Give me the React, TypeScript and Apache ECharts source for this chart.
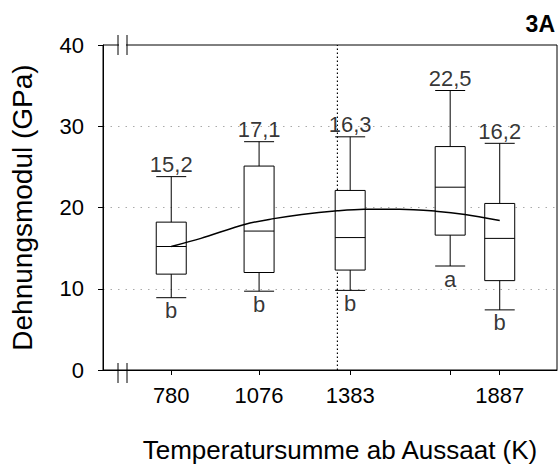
import React, { useEffect, useRef } from "react";
import * as echarts from "echarts";

// ---- data ----
const boxX = [780, 1076, 1383, 1720, 1887];
const whiskerMin = [8.9, 9.7, 9.8, 12.8, 7.4];
const q1 = [11.8, 12.0, 12.3, 16.6, 11.0];
const median = [15.2, 17.1, 16.3, 22.5, 16.2];
const q3 = [18.2, 25.1, 22.1, 27.5, 20.5];
const whiskerMax = [23.8, 28.1, 28.7, 34.4, 27.9];
const medianLabels = ["15,2", "17,1", "16,3", "22,5", "16,2"];
const groupLetters = ["b", "b", "b", "a", "b"];

const curveX = [780, 880, 1030, 1120, 1220, 1340, 1430, 1550, 1670, 1770, 1887];
const curveY = [15.2, 16.2, 17.95, 18.6, 19.15, 19.6, 19.8, 19.8, 19.55, 19.15, 18.4];

const refLineX = 1340;
const xTickValues = [780, 1076, 1383, 1720, 1887];
const xLabelValues = [780, 1076, 1383, 1887];
const xMin = 550;
const xMax = 2080;
const yMin = 0;
const yMax = 40;
const yInterval = 10;

const FONT = "'Liberation Sans', Arial, Helvetica, sans-serif";
const GRID = { left: 100, right: 3, top: 45, bottom: 95 };
const W = 560;
const H = 468;

export default function App() {
  const ref = useRef<HTMLDivElement | null>(null);

  useEffect(() => {
    if (!ref.current) return;
    const chart = echarts.init(ref.current, undefined, { renderer: "svg" });

    const topY = GRID.top;
    const botY = H - GRID.bottom;
    const b1 = GRID.left + 18;
    const b2 = GRID.left + 27;
    const breakMarks = (y: number) => [
      {
        type: "rect",
        z: 100,
        shape: { x: b1 + 1, y: y - 2, width: b2 - b1 - 2, height: 4 },
        style: { fill: "#fff" },
      },
      {
        type: "line",
        z: 101,
        shape: { x1: b1, y1: y - 10, x2: b1, y2: y + 10 },
        style: { stroke: "#000", lineWidth: 1 },
      },
      {
        type: "line",
        z: 101,
        shape: { x1: b2, y1: y - 10, x2: b2, y2: y + 10 },
        style: { stroke: "#000", lineWidth: 1 },
      },
    ];

    const option: any = {
      animation: false,
      textStyle: { fontFamily: FONT, color: "#000" },
      title: {
        text: "3A",
        right: 5,
        top: 12,
        padding: 0,
        textStyle: { fontSize: 23, fontWeight: "bold", color: "#000", fontFamily: FONT },
      },
      grid: {
        left: GRID.left,
        right: GRID.right,
        top: GRID.top,
        bottom: GRID.bottom,
        show: true,
        borderColor: "#000",
        borderWidth: 1,
        backgroundColor: "transparent",
      },
      xAxis: {
        type: "value",
        min: xMin,
        max: xMax,
        name: "Temperatursumme ab Aussaat (K)",
        nameLocation: "middle",
        nameGap: 67,
        nameTextStyle: { fontSize: 26, color: "#000", fontFamily: FONT, padding: [0, 0, 0, 20] },
        axisLine: { show: true, lineStyle: { color: "#000", width: 1 } },
        axisTick: {
          show: true,
          length: 5,
          customValues: xTickValues,
          lineStyle: { color: "#000", width: 1 },
        },
        axisLabel: {
          customValues: xLabelValues,
          formatter: (v: number) => String(v),
          fontSize: 22,
          color: "#000",
          margin: 14,
          fontFamily: FONT,
        },
        splitLine: { show: false },
      },
      yAxis: {
        type: "value",
        min: yMin,
        max: yMax,
        interval: yInterval,
        name: "Dehnungsmodul (GPa)",
        nameLocation: "middle",
        nameGap: 67,
        nameTextStyle: { fontSize: 28, color: "#000", fontFamily: FONT },
        axisLine: { show: true, lineStyle: { color: "#000", width: 1 } },
        axisTick: { show: true, length: 5, lineStyle: { color: "#000", width: 1 } },
        axisLabel: { fontSize: 22, color: "#000", margin: 19, fontFamily: FONT },
        splitLine: {
          show: true,
          showMinLine: false,
          showMaxLine: false,
          lineStyle: { color: "#aaa", type: [1.5, 6], width: 1 },
        },
      },
      series: [
        {
          type: "line",
          z: 1,
          silent: true,
          symbol: "none",
          data: [
            [refLineX, yMin],
            [refLineX, yMax],
          ],
          lineStyle: { color: "#000", width: 1.2, type: [1.5, 2.5] },
        },
        {
          type: "boxplot",
          z: 3,
          boxWidth: [30, 30],
          itemStyle: { color: "#fff", borderColor: "#000", borderWidth: 1 },
          data: boxX.map((x, i) => [x, whiskerMin[i], q1[i], median[i], q3[i], whiskerMax[i]]),
        },
        {
          type: "line",
          z: 4,
          silent: true,
          symbol: "none",
          smooth: 0.3,
          data: curveX.map((x, i) => [x, curveY[i]]),
          lineStyle: { color: "#000", width: 1.5 },
        },
        {
          type: "scatter",
          z: 5,
          silent: true,
          symbolSize: 1,
          itemStyle: { color: "rgba(0,0,0,0)" },
          data: boxX.map((x, i) => [x, whiskerMax[i]]),
          label: {
            show: true,
            position: "inside",
            offset: [0, -12],
            formatter: (p: any) => medianLabels[p.dataIndex],
            fontSize: 22,
            color: "#000",
            fontFamily: FONT,
          },
        },
        {
          type: "scatter",
          z: 5,
          silent: true,
          symbolSize: 1,
          itemStyle: { color: "rgba(0,0,0,0)" },
          data: boxX.map((x, i) => [x, whiskerMin[i]]),
          label: {
            show: true,
            position: "inside",
            offset: [0, 13],
            formatter: (p: any) => groupLetters[p.dataIndex],
            fontSize: 22,
            color: "#000",
            fontFamily: FONT,
          },
        },
      ],
      graphic: [...breakMarks(topY), ...breakMarks(botY)],
    };

    chart.setOption(option);
    return () => {
      chart.dispose();
    };
  }, []);

  return (
    <div
      ref={ref}
      style={{ position: "absolute", left: 0, top: 0, width: W, height: H, background: "#fff" }}
    />
  );
}
